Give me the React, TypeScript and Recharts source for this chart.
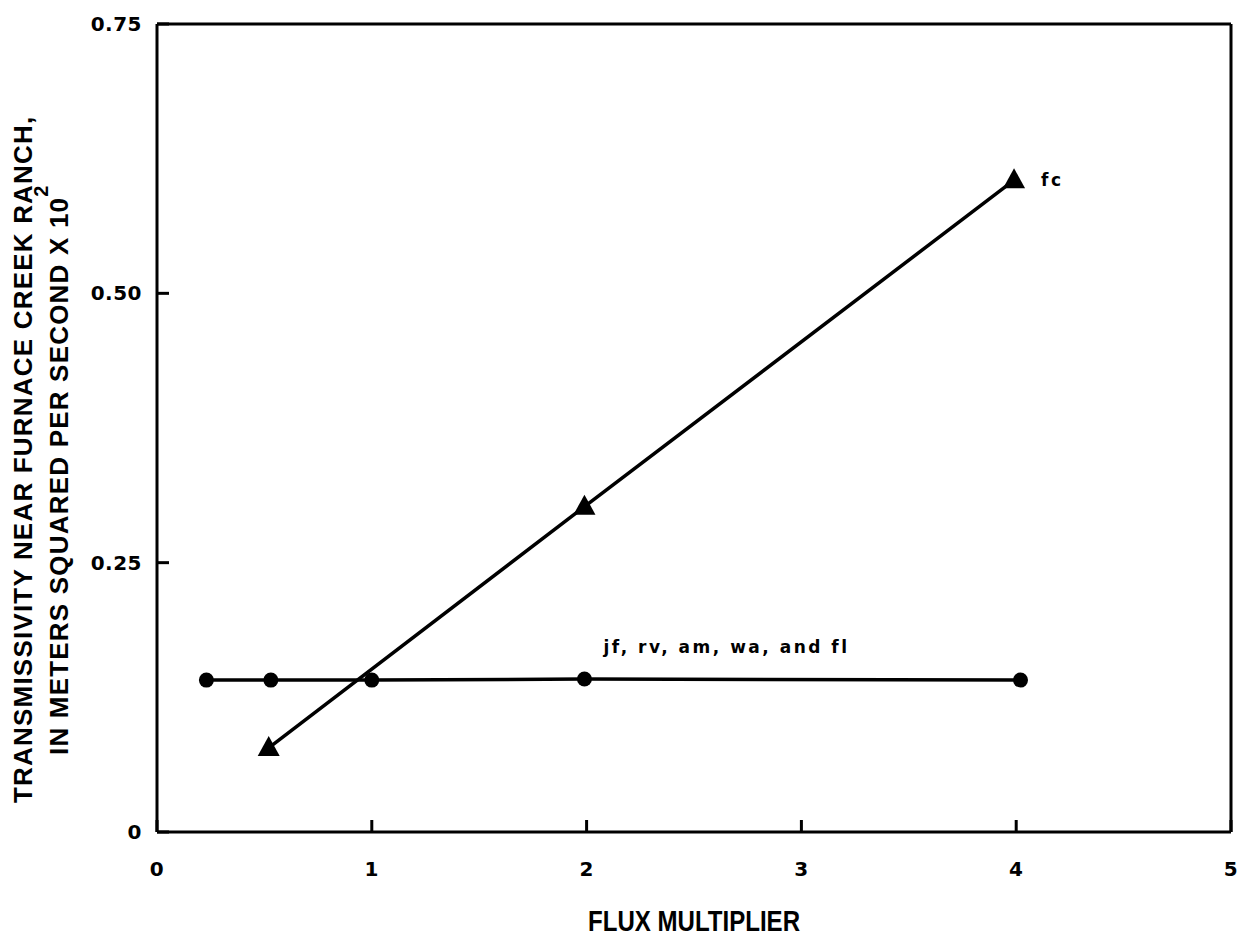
import React from "react";
import { LineChart, Line, XAxis, YAxis, LabelList } from "recharts";

const fcPoints = [
  { x: 0.52, y: 0.078 },
  { x: 1.99, y: 0.302 },
  { x: 3.99, y: 0.605 },
];
const otherPoints = [
  { x: 0.23, y: 0.141 },
  { x: 0.53, y: 0.141 },
  { x: 1.0, y: 0.141 },
  { x: 1.99, y: 0.142 },
  { x: 4.02, y: 0.141 },
];

const xTicks = [0, 1, 2, 3, 4, 5];
const xTicksTop = [1, 2, 3, 4];
const yTicks = [0, 0.25, 0.5, 0.75];
const yTicksRight = [0.25, 0.5];

const fcLabel = "fc";
const otherLabel = "jf, rv, am, wa, and fl";
const xTitle = "FLUX MULTIPLIER";
const yTitle1 = "TRANSMISSIVITY NEAR FURNACE CREEK RANCH,";
const yTitle2 = "IN METERS SQUARED PER SECOND X 10";

const tickFont = {
  fill: "#000",
  fontSize: 20,
  fontWeight: "bold",
  fontFamily: "DejaVu Sans",
  letterSpacing: 0.5,
};
const titleFont = "'Liberation Sans', Arial, sans-serif";
const frame = { stroke: "#000", strokeWidth: 3 };

const Triangle = (props: any) => {
  const { cx, cy } = props;
  if (cx == null || cy == null) return null;
  return (
    <polygon
      points={`${cx},${cy - 12} ${cx - 11},${cy + 8} ${cx + 11},${cy + 8}`}
      fill="#000"
    />
  );
};

const Circle = (props: any) => {
  const { cx, cy } = props;
  if (cx == null || cy == null) return null;
  return <circle cx={cx} cy={cy} r={7.5} fill="#000" />;
};

const XTitle = (props: any) => {
  const vb = props.viewBox;
  return (
    <text
      x={vb.x + vb.width / 2}
      y={vb.y + 99}
      textAnchor="middle"
      fontFamily={titleFont}
      fontWeight="bold"
      fontSize={29}
      textLength={212}
      lengthAdjust="spacingAndGlyphs"
      fill="#000"
    >
      {xTitle}
    </text>
  );
};

const YTitle = (props: any) => {
  const vb = props.viewBox;
  const bottom = vb.y + vb.height;
  const x1 = vb.x + 32;
  const y1 = bottom - 29;
  const x2 = vb.x + 68;
  const y2 = bottom - 77;
  return (
    <g fill="#000" fontFamily={titleFont} fontWeight="bold" fontSize={26}>
      <text x={x1} y={y1} transform={`rotate(-90, ${x1}, ${y1})`} letterSpacing={1.2}>
        {yTitle1}
      </text>
      <text x={x2} y={y2} transform={`rotate(-90, ${x2}, ${y2})`} letterSpacing={1.2}>
        {yTitle2}
        <tspan dy={-20} fontSize={20}>
          2
        </tspan>
      </text>
    </g>
  );
};

const noteStyle = {
  fill: "#000",
  fontFamily: "DejaVu Sans",
  fontWeight: "bold" as const,
  fontSize: 17,
  letterSpacing: 2.5,
};

export default function App() {
  return (
    <div style={{ position: "absolute", left: 0, top: 0, background: "#fff" }}>
      <LineChart
        width={1242}
        height={936}
        margin={{ top: 4, right: 1, bottom: 44, left: 0 }}
      >
        <XAxis
          xAxisId="x"
          type="number"
          dataKey="x"
          domain={[0, 5]}
          allowDataOverflow
          ticks={xTicks}
          interval={0}
          height={60}
          tickSize={-12}
          tickMargin={42}
          axisLine={frame}
          tickLine={frame}
          tick={tickFont}
          label={{ content: XTitle }}
        />
        <XAxis
          xAxisId="top"
          orientation="top"
          type="number"
          domain={[0, 5]}
          allowDataOverflow
          ticks={xTicksTop}
          interval={0}
          height={20}
          tickSize={-12}
          axisLine={frame}
          tickLine={frame}
          tick={false}
        />
        <YAxis
          yAxisId="y"
          type="number"
          domain={[0, 0.75]}
          allowDataOverflow
          ticks={yTicks}
          interval={0}
          width={157}
          tickSize={-12}
          tickMargin={27}
          axisLine={frame}
          tickLine={frame}
          tick={tickFont}
          tickFormatter={(v: number) => (v === 0 ? "0" : v.toFixed(2))}
          label={{ content: YTitle }}
        />
        <YAxis
          yAxisId="right"
          orientation="right"
          type="number"
          domain={[0, 0.75]}
          allowDataOverflow
          ticks={yTicksRight}
          interval={0}
          width={10}
          tickSize={-12}
          axisLine={frame}
          tickLine={frame}
          tick={false}
        />

        <Line
          xAxisId="x"
          yAxisId="y"
          data={otherPoints}
          dataKey="y"
          stroke="#000"
          strokeWidth={3.5}
          dot={<Circle />}
          activeDot={false}
          isAnimationActive={false}
        >
          <LabelList
            dataKey="y"
            content={(p: any) =>
              p.index === 3 ? (
                <text x={p.x + 19} y={p.y - 26} {...noteStyle}>
                  {otherLabel}
                </text>
              ) : null
            }
          />
        </Line>
        <Line
          xAxisId="x"
          yAxisId="y"
          data={fcPoints}
          dataKey="y"
          stroke="#000"
          strokeWidth={3.5}
          dot={<Triangle />}
          activeDot={false}
          isAnimationActive={false}
        >
          <LabelList
            dataKey="y"
            content={(p: any) =>
              p.index === fcPoints.length - 1 ? (
                <text x={p.x + 27} y={p.y + 6} {...noteStyle}>
                  {fcLabel}
                </text>
              ) : null
            }
          />
        </Line>
      </LineChart>
    </div>
  );
}
